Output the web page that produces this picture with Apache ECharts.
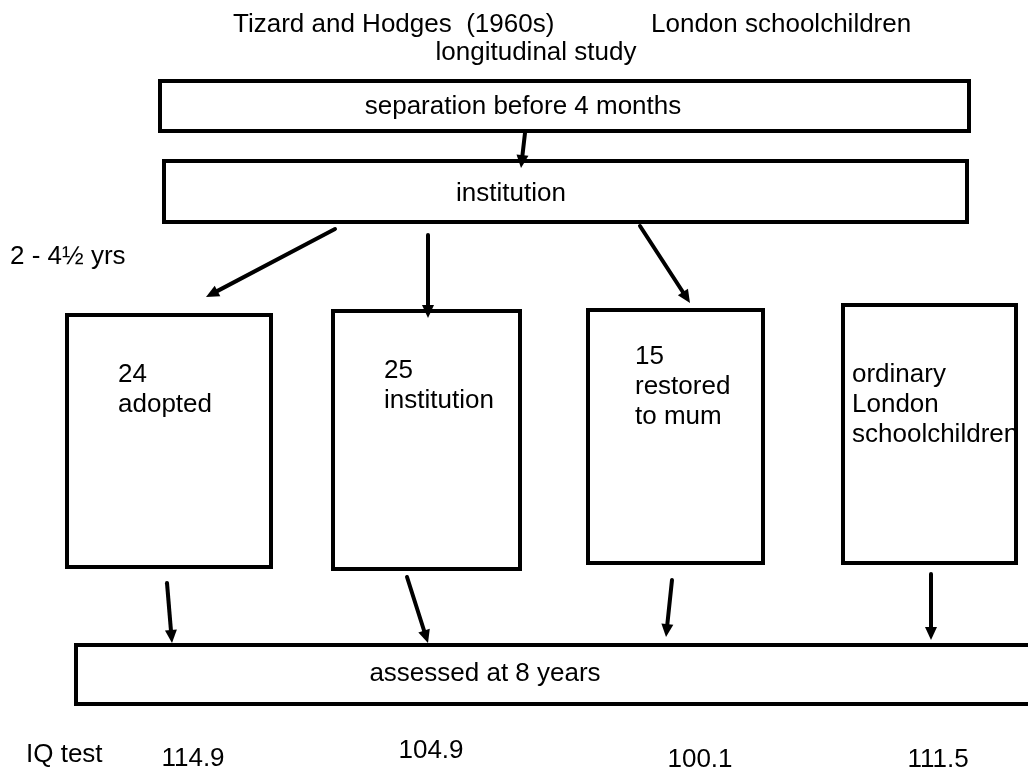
<!DOCTYPE html>
<html>
<head>
<meta charset="utf-8">
<title>Tizard and Hodges</title>
<script src="https://cdn.jsdelivr.net/npm/echarts@6/dist/echarts.min.js"></script>
<style>
  html, body { margin: 0; padding: 0; background: #fff; }
  #chart { width: 1028px; height: 774px; }
</style>
</head>
<body>
<div id="chart"></div>
<script>
// content of the diagram
var studyTitle = 'Tizard and Hodges  (1960s)';
var studyType = 'longitudinal study';
var studyPopulation = 'London schoolchildren';
var stages = ['separation before 4 months', 'institution', 'assessed at 8 years'];
var ageRange = '2 - 4\u00bd yrs';
var groupSizes = [24, 25, 15, null];
var groupNames = ['adopted', 'institution', 'restored\nto mum', 'ordinary\nLondon\nschoolchildren'];
var iqLabel = 'IQ test';
var iqScores = [114.9, 104.9, 100.1, 111.5];

// layout (in page pixels, mapped through hidden value axes)
var stageBoxes = [[160, 81, 969, 131], [164, 161, 967, 222], [76, 645, 1040, 704]];
var groupBoxes = [[67, 315, 271, 567], [333, 311, 520, 569], [588, 310, 763, 563], [843, 305, 1016, 563]];
var arrows = [
    [525, 133, 521, 168],
    [335, 229, 206, 297],
    [428, 235, 428, 318],
    [640, 226, 690, 303],
    [167, 583, 172, 643],
    [407, 577, 428, 643],
    [672, 580, 666, 637],
    [931, 574, 931, 640]
];
var stageTextPos = [[523, 107], [511, 194], [485, 674]];
var groupTextPos = [[118, 360], [384, 356], [635, 342], [852, 360]];
var iqTextPos = [[193, 759], [431, 751], [700, 760], [938, 760]];

var FONT = '"Liberation Sans", Arial, sans-serif';

// free text items: [x, y, text, align]
var texts = [
    [233, 25, studyTitle, 'left'],
    [651, 25, studyPopulation, 'left'],
    [536, 53, studyType, 'center'],
    [10, 257, ageRange, 'left'],
    [26, 755, iqLabel, 'left']
];
stages.forEach(function (s, i) {
    texts.push([stageTextPos[i][0], stageTextPos[i][1], s, 'center']);
});
iqScores.forEach(function (v, i) {
    texts.push([iqTextPos[i][0], iqTextPos[i][1], v.toFixed(1), 'center']);
});

var groupLabels = groupNames.map(function (n, i) {
    return groupSizes[i] == null ? n : groupSizes[i] + '\n' + n;
});

var chart = echarts.init(document.getElementById('chart'));

function renderBox(params, api) {
    var p1 = api.coord([api.value(0), api.value(1)]);
    var p2 = api.coord([api.value(2), api.value(3)]);
    return {
        type: 'rect',
        shape: { x: p1[0], y: p1[1], width: p2[0] - p1[0], height: p2[1] - p1[1] },
        style: { fill: '#fff', stroke: '#000', lineWidth: 4 }
    };
}

function renderArrow(params, api) {
    var a = api.coord([api.value(0), api.value(1)]);
    var b = api.coord([api.value(2), api.value(3)]);
    var dx = b[0] - a[0], dy = b[1] - a[1];
    var len = Math.sqrt(dx * dx + dy * dy);
    var ux = dx / len, uy = dy / len;
    var headLen = 13, headHalf = 6;
    var bx = b[0] - ux * headLen, by = b[1] - uy * headLen;
    return {
        type: 'group',
        children: [{
            type: 'line',
            shape: { x1: a[0], y1: a[1], x2: bx + ux * 2, y2: by + uy * 2 },
            style: { stroke: '#000', lineWidth: 4, lineCap: 'round' }
        }, {
            type: 'polygon',
            shape: { points: [
                [b[0], b[1]],
                [bx - uy * headHalf, by + ux * headHalf],
                [bx + uy * headHalf, by - ux * headHalf]
            ] },
            style: { fill: '#000' }
        }]
    };
}

function renderText(params, api) {
    var p = api.coord([api.value(0), api.value(1)]);
    var t = texts[params.dataIndex];
    return {
        type: 'text',
        x: p[0], y: p[1],
        style: {
            text: t[2], fill: '#000', fontSize: 26, fontFamily: FONT,
            align: t[3], verticalAlign: 'middle'
        }
    };
}

function renderGroupText(params, api) {
    var p = api.coord([api.value(0), api.value(1)]);
    return {
        type: 'text',
        x: p[0], y: p[1],
        style: {
            text: groupLabels[params.dataIndex], fill: '#000', fontSize: 26, fontFamily: FONT,
            align: 'left', verticalAlign: 'top', lineHeight: 30
        }
    };
}

var option = {
    animation: false,
    backgroundColor: '#fff',
    grid: { left: 0, right: 0, top: 0, bottom: 0 },
    xAxis: { type: 'value', min: 0, max: 1028, show: false },
    yAxis: { type: 'value', min: 0, max: 774, inverse: true, show: false },
    series: [
        { type: 'custom', renderItem: renderBox, data: stageBoxes.concat(groupBoxes), z: 1 },
        { type: 'custom', renderItem: renderArrow, data: arrows, z: 3 },
        { type: 'custom', renderItem: renderGroupText, data: groupTextPos, z: 2 },
        { type: 'custom', renderItem: renderText, data: texts.map(function (t) { return [t[0], t[1]]; }), z: 2 }
    ]
};

chart.setOption(option);
</script>
</body>
</html>
